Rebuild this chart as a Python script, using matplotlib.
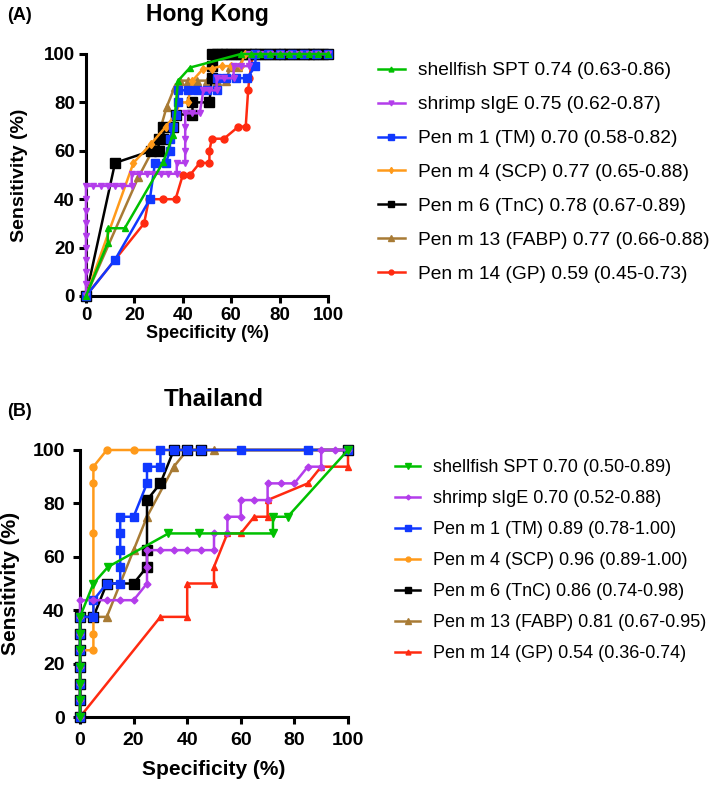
import matplotlib.pyplot as plt

plt.rcParams['font.family'] = ['Liberation Sans', 'DejaVu Sans']

GREEN = '#00c000'
PURPLE = '#b33deb'
BLUE = '#1038ff'
ORANGE = '#ff9a1a'
BLACK = '#000000'
BROWN = '#a87b35'
RED = '#ff2a10'

# ---- Hong Kong (A) ----
hk_green_x = [0, 9, 9, 16, 32, 36, 38, 43, 64, 68, 72, 76, 80, 84, 88, 92, 96, 100]
hk_green_y = [0, 22, 28, 28, 55.5, 66.7, 88.9, 94.4, 100, 100, 100, 100, 100, 100, 100, 100, 100, 100]

hk_purple_x = [0, 0, 0, 0, 0, 0, 0, 0, 0, 0, 3, 6, 9, 12, 15, 18.9,
               18.9, 22, 25, 28, 31, 34, 37.5, 37.5, 41, 41, 41, 41, 41,
               44, 47, 48.5, 51, 54, 54, 57, 61, 61, 64, 67.5,
               67.5, 72, 76, 80, 84, 88, 92, 96, 100]
hk_purple_y = [0, 5, 10, 15, 20, 25, 30, 35, 40, 45.5, 45.5, 45.5, 45.5, 45.5, 45.5, 45.5,
               50.5, 50.5, 50.5, 50.5, 50.5, 50.5, 50.5, 55, 55, 60, 65, 70, 75.5,
               75.5, 75.5, 85, 85, 85, 90, 90, 90, 95, 95, 95,
               100, 100, 100, 100, 100, 100, 100, 100, 100]

hk_blue_x = [0, 12, 26.4, 28.5, 33, 34.7, 34.7, 36, 37, 38, 38, 42, 46, 50, 54,
             54, 58, 62, 66.5, 70, 70, 75, 80, 85, 90, 95, 100]
hk_blue_y = [0, 15, 40, 55, 55, 60, 65, 70, 75, 80, 85, 85, 85, 85, 85,
             90, 90, 90, 90, 95, 100, 100, 100, 100, 100, 100, 100]

hk_orange_x = [0, 19.6, 27, 33, 37, 38.8, 42, 44, 48.5, 52, 56, 60, 64, 65.5,
               70, 75, 80, 85, 90, 95, 100]
hk_orange_y = [0, 55, 63, 70, 75, 80, 80, 89, 94, 94, 95, 95, 95, 100,
               100, 100, 100, 100, 100, 100, 100]

hk_black_x = [0, 12, 27, 30, 30, 32, 32, 36, 37, 44, 44, 51, 52, 52, 52,
              54, 56, 58, 60, 62, 64, 66, 68, 70, 72, 74, 76, 78, 80, 82, 84, 86,
              88, 90, 92, 94, 96, 98, 100]
hk_black_y = [0, 55, 60, 60, 65, 65, 70, 70, 75, 75, 80, 80, 90, 95, 100,
              100, 100, 100, 100, 100, 100, 100, 100, 100, 100, 100, 100, 100, 100, 100, 100, 100,
              100, 100, 100, 100, 100, 100, 100]

hk_brown_x = [0, 21.6, 29, 33.3, 36.7, 38.8, 42, 46, 50, 54, 58, 59.5, 63, 66,
              72, 78, 84, 90, 95, 100]
hk_brown_y = [0, 49, 63, 78, 86.5, 89, 89, 89, 89, 89, 89, 94.5, 94.5, 100,
              100, 100, 100, 100, 100, 100]

hk_red_x = [0, 24, 26, 32, 37, 40, 43, 47, 51, 51, 52, 57, 63, 66, 67, 67.5, 69, 100]
hk_red_y = [0, 30, 40, 40, 40, 50, 50, 55, 55, 60, 65, 65, 70, 70, 85, 90, 100, 100]

hk_labels = ['shellfish SPT 0.74 (0.63-0.86)', 'shrimp sIgE 0.75 (0.62-0.87)',
             'Pen m 1 (TM) 0.70 (0.58-0.82)', 'Pen m 4 (SCP) 0.77 (0.65-0.88)',
             'Pen m 6 (TnC) 0.78 (0.67-0.89)', 'Pen m 13 (FABP) 0.77 (0.66-0.88)',
             'Pen m 14 (GP) 0.59 (0.45-0.73)']

# ---- Thailand (B) ----
zero_col = [0, 0, 0, 0, 0, 0, 0]
zero_steps = [0, 6.25, 12.5, 18.75, 25, 31.25, 37.5]

th_green_x = zero_col + [5, 10.5, 33, 44.5, 72, 72, 77.5, 100]
th_green_y = zero_steps + [50, 56.25, 68.75, 68.75, 68.75, 75, 75, 100]

th_purple_x = zero_col + [0, 5, 10, 15, 20, 25, 25, 25, 30, 35, 40, 45, 50, 50, 55, 55,
                          60, 60, 65, 70, 70, 75, 80, 85, 90, 90, 95, 100]
th_purple_y = zero_steps + [43.75, 43.75, 43.75, 43.75, 43.75, 50, 56.25, 62.5, 62.5, 62.5,
                            62.5, 62.5, 62.5, 68.75, 68.75, 75, 75, 81.25, 81.25, 81.25,
                            87.5, 87.5, 87.5, 93.75, 93.75, 100, 100, 100]

th_blue_x = zero_col + [5, 5, 10, 15, 15, 15, 15, 15, 20, 25, 25, 30, 30, 35, 40, 45, 60, 85, 100]
th_blue_y = zero_steps + [37.5, 43.75, 50, 50, 56.25, 62.5, 68.75, 75, 75, 87.5, 93.75,
                          93.75, 100, 100, 100, 100, 100, 100, 100]

th_orange_x = [0, 0, 0, 0, 0, 5, 5, 5, 5, 5, 10, 20, 30, 40, 100]
th_orange_y = [0, 6.25, 12.5, 18.75, 25, 25, 31.25, 68.75, 87.5, 93.75, 100, 100, 100, 100, 100]

th_black_x = zero_col + [5, 10, 20, 25, 25, 25, 30, 35, 40, 45, 100]
th_black_y = zero_steps + [37.5, 50, 50, 56.25, 62.5, 81.25, 87.5, 100, 100, 100, 100]

th_brown_x = [0, 0, 10, 20, 25, 35, 40, 50, 100]
th_brown_y = [0, 37.5, 37.5, 62.5, 75, 93.75, 100, 100, 100]

th_red_x = [0, 30, 40, 40, 50, 50, 55, 60, 65, 70, 70, 85, 90, 100, 100]
th_red_y = [0, 37.5, 37.5, 50, 50, 56.25, 68.75, 68.75, 75, 75, 81.25, 87.5, 93.75, 93.75, 100]

th_labels = ['shellfish SPT 0.70 (0.50-0.89)', 'shrimp sIgE 0.70 (0.52-0.88)',
             'Pen m 1 (TM) 0.89 (0.78-1.00)', 'Pen m 4 (SCP) 0.96 (0.89-1.00)',
             'Pen m 6 (TnC) 0.86 (0.74-0.98)', 'Pen m 13 (FABP) 0.81 (0.67-0.95)',
             'Pen m 14 (GP) 0.54 (0.36-0.74)']

fig = plt.figure(figsize=(7.09, 7.86), dpi=100)

ax1 = fig.add_axes([86 / 709, 1 - 296 / 786, 242 / 709, 242 / 786])
ax2 = fig.add_axes([80 / 709, 1 - 717 / 786, 268 / 709, 267 / 786])


def style_axes(ax, fs, pad):
    ax.set_xlim(0, 100)
    ax.set_ylim(0, 100)
    ax.set_xticks([0, 20, 40, 60, 80, 100])
    ax.set_yticks([0, 20, 40, 60, 80, 100])
    for s in ['top', 'right']:
        ax.spines[s].set_visible(False)
    for s in ['left', 'bottom']:
        ax.spines[s].set_linewidth(2.2)
    ax.tick_params(width=2.2, length=5, labelsize=fs, pad=pad)
    for lab in ax.get_xticklabels() + ax.get_yticklabels():
        lab.set_fontweight('bold')


# series: (x, y, color, marker, size), drawn bottom to top
hk_series = [
    (hk_green_x, hk_green_y, GREEN, '^', 5),
    (hk_purple_x, hk_purple_y, PURPLE, 'v', 5),
    (hk_blue_x, hk_blue_y, BLUE, 's', 5.5),
    (hk_orange_x, hk_orange_y, ORANGE, 'd', 4.5),
    (hk_black_x, hk_black_y, BLACK, 's', 7),
    (hk_brown_x, hk_brown_y, BROWN, '^', 5.5),
    (hk_red_x, hk_red_y, RED, 'o', 5),
]
th_series = [
    (th_green_x, th_green_y, GREEN, 'v', 5.5),
    (th_purple_x, th_purple_y, PURPLE, 'D', 3.5),
    (th_blue_x, th_blue_y, BLUE, 's', 5.5),
    (th_orange_x, th_orange_y, ORANGE, 'o', 5),
    (th_black_x, th_black_y, BLACK, 's', 7),
    (th_brown_x, th_brown_y, BROWN, '^', 6),
    (th_red_x, th_red_y, RED, '^', 5),
]

all_handles = []
for ax, series, labels in [(ax1, hk_series, hk_labels), (ax2, th_series, th_labels)]:
    n = len(series)
    handles = []
    for i, (x, y, c, m, ms) in enumerate(series):
        h, = ax.plot(x, y, color=c, marker=m, markersize=ms, lw=1.8,
                     clip_on=False, zorder=10 + (n - i), label=labels[i])
        handles.append(h)
    all_handles.append(handles)

style_axes(ax1, 13.5, 3)
style_axes(ax2, 14, 6)

ax1.set_xlabel('Specificity (%)', fontsize=13, fontweight='bold', labelpad=1)
ax1.set_ylabel('Sensitivity (%)', fontsize=14, fontweight='bold', labelpad=11)
ax2.set_xlabel('Specificity (%)', fontsize=15, fontweight='bold', labelpad=8)
ax2.set_ylabel('Sensitivity (%)', fontsize=15, fontweight='bold', labelpad=9)

fig.text(207 / 709, 1 - 14 / 786, 'Hong Kong', ha='center', va='center',
         fontsize=16.5, fontweight='bold')
fig.text(214 / 709, 1 - 399 / 786, 'Thailand', ha='center', va='center',
         fontsize=17.5, fontweight='bold')
fig.text(7 / 709, 1 - 15 / 786, '(A)', ha='left', va='center', fontsize=13, fontweight='bold')
fig.text(7 / 709, 1 - 411 / 786, '(B)', ha='left', va='center', fontsize=13, fontweight='bold')

fig.legend(handles=all_handles[0], labels=hk_labels, loc='upper left',
           bbox_to_anchor=(378 / 709, 1 - 62 / 786), frameon=False, fontsize=13.8,
           handlelength=1.4, handletextpad=0.68, labelspacing=0.86, markerscale=0.7,
           borderpad=0, borderaxespad=0)
fig.legend(handles=all_handles[1], labels=th_labels, loc='upper left',
           bbox_to_anchor=(395 / 709, 1 - 459 / 786), frameon=False, fontsize=13,
           handlelength=1.4, handletextpad=0.72, labelspacing=0.78, markerscale=0.7,
           borderpad=0, borderaxespad=0)

fig.savefig('out.png', dpi=100)
